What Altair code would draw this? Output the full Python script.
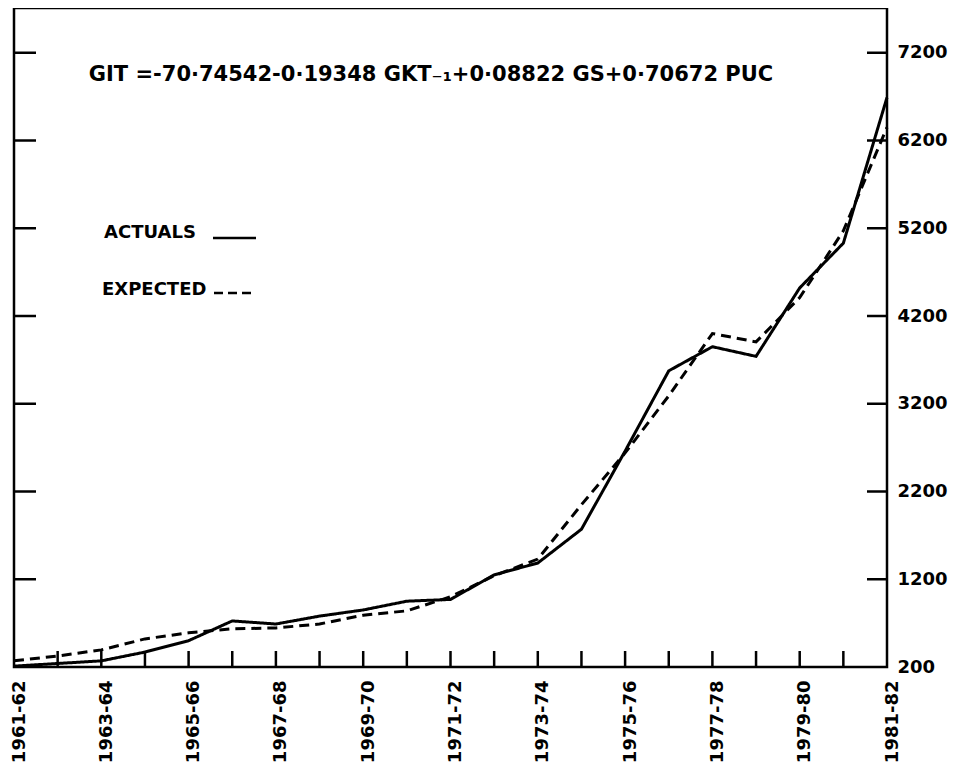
import altair as alt
import pandas as pd

years = ["1961-62", "1962-63", "1963-64", "1964-65", "1965-66", "1966-67", "1967-68",
         "1968-69", "1969-70", "1970-71", "1971-72", "1972-73", "1973-74", "1974-75",
         "1975-76", "1976-77", "1977-78", "1978-79", "1979-80", "1980-81", "1981-82"]
actuals = [210, 240, 270, 370, 500, 725, 690, 780, 850, 950, 970, 1250, 1385, 1770,
           2660, 3575, 3850, 3740, 4520, 5030, 6690]
expected = [270, 325, 395, 520, 590, 635, 645, 690, 790, 840, 1000, 1240, 1430, 2050,
             2640, 3290, 4000, 3905, 4410, 5170, 6350]
y_ticks = [200, 1200, 2200, 3200, 4200, 5200, 6200, 7200]
x_labels = years[::2]
equation = "GIT =-70·74542-0·19348 GKT₋₁+0·08822 GS+0·70672 PUC"

W, H = 873, 659
FONT = "DejaVu Sans"

df = pd.DataFrame({
    "year": years * 2,
    "value": actuals + expected,
    "series": ["ACTUALS"] * len(years) + ["EXPECTED"] * len(years),
})
tick_df = pd.DataFrame({"v": y_ticks[1:]})
xtick_df = pd.DataFrame({"year": years[1:-1]})

xscale = alt.Scale(type="point", domain=years, padding=0)
yscale = alt.Scale(domain=[200, 7710], nice=False, zero=False)

lines = alt.Chart(df).mark_line(color="black", strokeWidth=3).encode(
    x=alt.X("year:O", scale=xscale, sort=years, title=None,
            axis=alt.Axis(values=x_labels, labelAngle=270, tickSize=0, domain=False,
                          labelPadding=13, labelFontSize=18, labelFontWeight="bold",
                          labelOffset=5, labelFont=FONT, labelColor="black")),
    y=alt.Y("value:Q", scale=yscale, title=None,
            axis=alt.Axis(orient="right", values=y_ticks, format="d", tickSize=0,
                          domain=False, grid=False, labelPadding=10, labelFontSize=18,
                          labelFontWeight="bold", labelFont=FONT, labelColor="black")),
    strokeDash=alt.StrokeDash("series:N", legend=None,
                              scale=alt.Scale(domain=["ACTUALS", "EXPECTED"],
                                              range=[[1, 0], [10, 6]])),
    detail="series:N",
)

left_ticks = alt.Chart(tick_df).mark_rule(color="black", strokeWidth=2.5).encode(
    y=alt.Y("v:Q", scale=yscale), x=alt.value(0), x2=alt.value(22))
right_ticks = alt.Chart(tick_df).mark_rule(color="black", strokeWidth=2.5).encode(
    y=alt.Y("v:Q", scale=yscale), x=alt.value(W - 20), x2=alt.value(W))
bottom_ticks = alt.Chart(xtick_df).mark_rule(color="black", strokeWidth=2.5).encode(
    x=alt.X("year:O", scale=xscale, sort=years),
    y=alt.value(H - 16), y2=alt.value(H))

eq_text = alt.Chart(pd.DataFrame({"t": [equation]})).mark_text(
    fontSize=21, fontWeight="bold", font=FONT, align="center", baseline="middle",
    color="black").encode(text="t:N", x=alt.value(417), y=alt.value(67))

act_text = alt.Chart(pd.DataFrame({"label": ["ACTUALS"]})).mark_text(
    fontSize=18, fontWeight="bold", font=FONT, align="left", baseline="middle",
    color="black").encode(text="label:N", x=alt.value(90), y=alt.value(225))
exp_text = alt.Chart(pd.DataFrame({"label": ["EXPECTED"]})).mark_text(
    fontSize=18, fontWeight="bold", font=FONT, align="left", baseline="middle",
    color="black").encode(text="label:N", x=alt.value(88), y=alt.value(282))
leg_solid = alt.Chart(pd.DataFrame({"a": [0]})).mark_rule(color="black", strokeWidth=2.5).encode(
    x=alt.value(199), x2=alt.value(242), y=alt.value(230))
leg_dash = alt.Chart(pd.DataFrame({"a": [0]})).mark_rule(
    color="black", strokeWidth=2.5, strokeDash=[9, 5]).encode(
    x=alt.value(200), x2=alt.value(240), y=alt.value(285))

chart = alt.layer(lines, left_ticks, right_ticks, bottom_ticks, eq_text,
                  act_text, exp_text, leg_solid, leg_dash).properties(
    width=W, height=H, background="white",
    padding={"left": 0, "top": 0, "right": 2, "bottom": 2},
).configure_view(stroke="black", strokeWidth=2.5)

chart.save("out.html", embed_options={"renderer": "svg", "actions": False})
